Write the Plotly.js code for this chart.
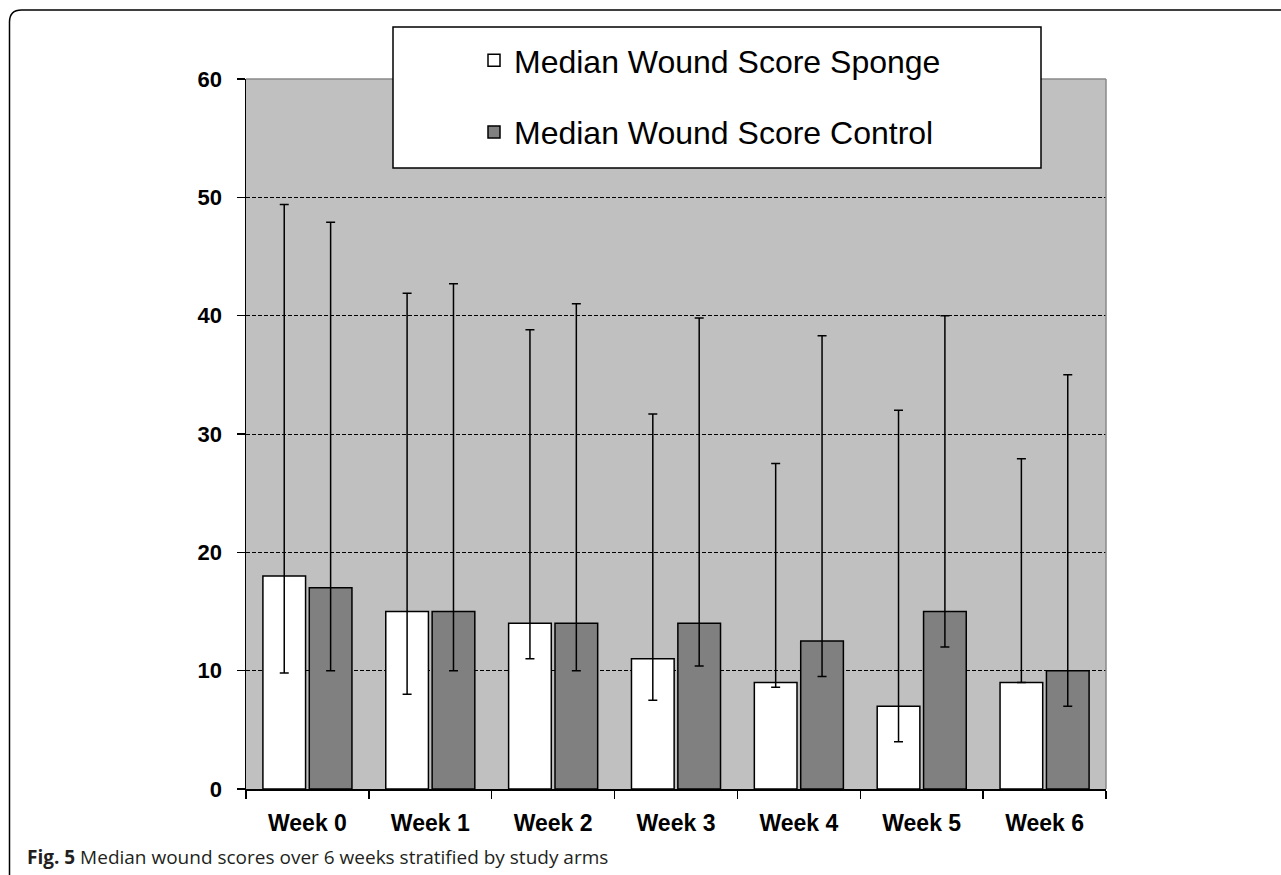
<!DOCTYPE html>
<html>
<head>
<meta charset="utf-8">
<script src="https://cdn.plot.ly/plotly-3.0.1.min.js"></script>
<style>html,body{margin:0;padding:0;background:#fff;}#chart{width:1281px;height:875px;}</style>
</head>
<body>
<div id="chart"></div>
<script>
// ---- data ----
var weeks = ['Week 0', 'Week 1', 'Week 2', 'Week 3', 'Week 4', 'Week 5', 'Week 6'];

var spongeMedian = [18, 15, 14, 11, 9, 7, 9];
var spongeUpper  = [49.4, 41.9, 38.8, 31.7, 27.5, 32.0, 27.9];
var spongeLower  = [9.8, 8.0, 11.0, 7.5, 8.6, 4.0, 9.0];

var controlMedian = [17, 15, 14, 14, 12.5, 15, 10];
var controlUpper  = [47.9, 42.7, 41.0, 39.8, 38.3, 40.0, 35.0];
var controlLower  = [10.0, 10.0, 10.0, 10.4, 9.5, 12.0, 7.0];

var seriesNames = ['Median Wound Score Sponge', 'Median Wound Score Control'];
var captionBold = 'Fig. 5';
var captionText = 'Median wound scores over 6 weeks stratified by study arms';

// ---- layout geometry (pixels) ----
var W = 1281, H = 875;
var M = {l: 246, r: 175, t: 79, b: 86};
var PW = W - M.l - M.r, PH = H - M.t - M.b;
function px(x) { return (x - M.l) / PW; }
function py(y) { return (H - M.b - y) / PH; }

function diff(a, b) { return a.map(function (v, i) { return +(v - b[i]).toFixed(3); }); }

var errStyle = {type: 'data', symmetric: false, color: '#000000', thickness: 1.5, width: 4.5};

var traces = [
  {
    type: 'bar', name: seriesNames[0], x: weeks, y: spongeMedian, legendgroup: 'a',
    marker: {color: '#ffffff', line: {color: '#000000', width: 1.5}},
    error_y: Object.assign({array: diff(spongeUpper, spongeMedian), arrayminus: diff(spongeMedian, spongeLower)}, errStyle),
    hoverinfo: 'x+y'
  },
  {
    type: 'bar', name: seriesNames[1], x: weeks, y: controlMedian, legendgroup: 'b',
    marker: {color: '#808080', line: {color: '#000000', width: 1.5}},
    error_y: Object.assign({array: diff(controlUpper, controlMedian), arrayminus: diff(controlMedian, controlLower)}, errStyle),
    hoverinfo: 'x+y'
  }
];

var arial = 'Arial, "Liberation Sans", sans-serif';

// frame (open to the right / bottom like the reference crop)
var fx = px(9.5), fy = py(10), rX = 12 / PW, rY = 12 / PH;
var framePath = 'M ' + fx + ',' + py(885) + ' L ' + fx + ',' + (fy - rY) +
  ' Q ' + fx + ',' + fy + ' ' + (fx + rX) + ',' + fy + ' L ' + px(1300) + ',' + fy;

var layout = {
  width: W, height: H,
  margin: M,
  paper_bgcolor: '#ffffff',
  plot_bgcolor: '#c0c0c0',
  barmode: 'group',
  bargap: 0.245,
  bargroupgap: 0.08,
  font: {family: arial, color: '#000000'},
  showlegend: true,
  legend: {
    x: px(474), xanchor: 'left',
    y: py(33), yanchor: 'top',
    bgcolor: 'rgba(0,0,0,0)', borderwidth: 0,
    font: {family: arial, size: 32, color: '#000000'},
    tracegroupgap: 27,
    traceorder: 'grouped'
  },
  xaxis: {
    type: 'category',
    showline: true, linecolor: '#000000', linewidth: 1.5,
    ticks: 'outside', ticklen: 8, tickwidth: 1.5, tickcolor: '#000000',
    tickson: 'boundaries',
    showgrid: false, zeroline: false,
    tickfont: {family: arial, size: 23, color: '#000000', weight: 'bold'},
    ticklabelstandoff: 13,
    fixedrange: true
  },
  yaxis: {
    range: [0, 60], dtick: 10, tick0: 0,
    showline: true, linecolor: '#000000', linewidth: 1.5,
    ticks: 'outside', ticklen: 8, tickwidth: 1.5, tickcolor: '#000000',
    showgrid: true, gridcolor: '#000000', gridwidth: 1, griddash: '4px,2px',
    zeroline: false,
    tickfont: {family: arial, size: 22, color: '#000000', weight: 'bold'},
    ticklabelstandoff: 10,
    fixedrange: true
  },
  shapes: [
    {type: 'line', xref: 'paper', yref: 'paper', x0: 0, x1: 1, y0: 1, y1: 1,
     line: {color: '#8a8a8a', width: 1.5}, layer: 'above'},
    {type: 'line', xref: 'paper', yref: 'paper', x0: 1, x1: 1, y0: 0, y1: 1,
     line: {color: '#8a8a8a', width: 1.5}, layer: 'above'},
    {type: 'rect', xref: 'paper', yref: 'paper', x0: px(393), x1: px(1041), y0: py(168), y1: py(27),
     fillcolor: '#ffffff', line: {color: '#000000', width: 1.5}, layer: 'above'},
    {type: 'path', xref: 'paper', yref: 'paper', path: framePath,
     line: {color: '#000000', width: 1.5}, layer: 'above'}
  ],
  annotations: [
    {xref: 'paper', yref: 'paper', x: px(25), y: py(857), xanchor: 'left', yanchor: 'middle',
     showarrow: false, align: 'left',
     text: '<b>' + captionBold + '</b> ' + captionText,
     font: {family: '"Open Sans", "Noto Sans", sans-serif', size: 19, color: '#231f20'}}
  ]
};

Plotly.newPlot('chart', traces, layout, {displayModeBar: false, staticPlot: true});
</script>
</body>
</html>
